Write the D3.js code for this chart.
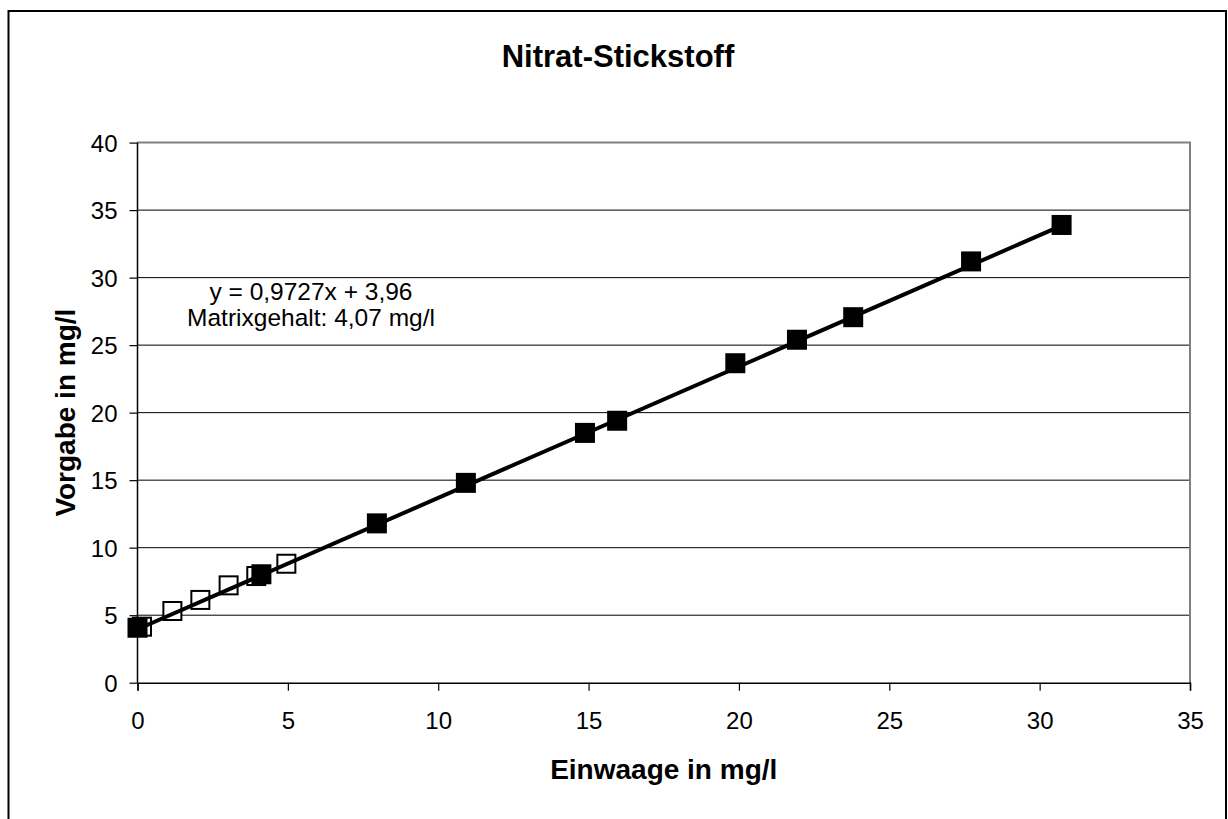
<!DOCTYPE html>
<html>
<head>
<meta charset="utf-8">
<script src="https://cdn.jsdelivr.net/npm/d3@7"></script>
<style>
  body { margin: 0; background: #fff; }
  svg { font-family: "Liberation Sans", Arial, sans-serif; }
</style>
</head>
<body>
<div id="chart"></div>
<script>
  // measured points (filled) and matrix-free points (open)
  let filledX = [0, 4.12, 7.96, 10.92, 14.88, 15.95, 19.88, 21.93, 23.8, 27.72, 30.73];
  let filledY = [4.07, 8.03, 11.8, 14.8, 18.5, 19.4, 23.66, 25.4, 27.07, 31.2, 33.9];
  let openX = [0.15, 1.16, 2.09, 3.03, 3.95, 4.95];
  let openY = [4.15, 5.31, 6.13, 7.21, 7.9, 8.81];

  let xTicks = [0, 5, 10, 15, 20, 25, 30, 35];
  let yTicks = [0, 5, 10, 15, 20, 25, 30, 35, 40];

  let slope = 0.9727;
  let intercept = 3.96;
  let noteLines = ['y = 0,9727x + 3,96', 'Matrixgehalt: 4,07 mg/l'];

  let W = 1228, H = 819;
  let plot = { left: 137.5, top: 142.6, right: 1190, bottom: 682.7 };

  let x = d3.scaleLinear().domain([0, 35]).range([plot.left, plot.right]);
  let y = d3.scaleLinear().domain([0, 40]).range([plot.bottom, plot.top]);

  let svg = d3.select('#chart').append('svg')
    .attr('width', W).attr('height', H);

  // outer chart border
  svg.append('rect')
    .attr('x', 8.5).attr('y', 11).attr('width', 1217.5).attr('height', 830)
    .attr('fill', '#fff').attr('stroke', '#000').attr('stroke-width', 2);

  // gridlines
  svg.append('g').selectAll('line')
    .data(yTicks.slice(1, -1))
    .enter().append('line')
    .attr('x1', plot.left).attr('x2', plot.right)
    .attr('y1', (d) => y(d)).attr('y2', (d) => y(d))
    .attr('stroke', '#000').attr('stroke-width', 1);

  // plot area top / right border
  svg.append('path')
    .attr('d', `M${plot.left},${y(40)}H${x(35)}V${plot.bottom}`)
    .attr('fill', 'none').attr('stroke', '#808080').attr('stroke-width', 2);

  // axes
  let xAxis = svg.append('g')
    .attr('transform', `translate(0, ${plot.bottom})`)
    .call(d3.axisBottom(x).tickValues(xTicks).tickSize(8).tickPadding(21));
  let yAxis = svg.append('g')
    .attr('transform', `translate(${plot.left}, 0)`)
    .call(d3.axisLeft(y).tickValues(yTicks).tickSize(8).tickPadding(12));

  [xAxis, yAxis].forEach((g) => {
    g.select('.domain').attr('stroke', '#000').attr('stroke-width', 1.5);
    g.selectAll('.tick line').attr('stroke', '#000').attr('stroke-width', 1.2);
    g.selectAll('.tick text')
      .attr('font-family', '"Liberation Sans", Arial, sans-serif')
      .attr('font-size', 24).attr('fill', '#000');
  });
  yAxis.select('.domain').attr('d', `M${0},${plot.bottom}V${y(40)}`);
  yAxis.selectAll('.tick text').attr('dy', '0.36em');

  // open squares
  let openData = openX.map((v, i) => ({ x: v, y: openY[i] }));
  svg.append('g').selectAll('rect')
    .data(openData)
    .enter().append('rect')
    .attr('x', (d) => x(d.x) - 9).attr('y', (d) => y(d.y) - 9)
    .attr('width', 18).attr('height', 18)
    .attr('fill', '#fff').attr('stroke', '#000').attr('stroke-width', 2);

  // regression line over filled range
  let xExtent = d3.extent(filledX);
  svg.append('line')
    .attr('x1', x(xExtent[0])).attr('y1', y(slope * xExtent[0] + intercept))
    .attr('x2', x(xExtent[1])).attr('y2', y(slope * xExtent[1] + intercept))
    .attr('stroke', '#000').attr('stroke-width', 4);

  // filled squares
  let filledData = filledX.map((v, i) => ({ x: v, y: filledY[i] }));
  svg.append('g').selectAll('rect')
    .data(filledData)
    .enter().append('rect')
    .attr('x', (d) => x(d.x) - 10).attr('y', (d) => y(d.y) - 10)
    .attr('width', 20).attr('height', 20)
    .attr('fill', '#000');

  // annotation
  svg.append('g').selectAll('text')
    .data(noteLines)
    .enter().append('text')
    .attr('x', 311).attr('y', (d, i) => 300 + i * 26)
    .attr('text-anchor', 'middle')
    .attr('font-size', 24.5)
    .text((d) => d);

  // titles
  svg.append('text')
    .attr('x', 618).attr('y', 67)
    .attr('text-anchor', 'middle')
    .attr('font-size', 31).attr('font-weight', 'bold')
    .text('Nitrat-Stickstoff');

  svg.append('text')
    .attr('x', (plot.left + plot.right) / 2).attr('y', 779)
    .attr('text-anchor', 'middle')
    .attr('font-size', 28).attr('font-weight', 'bold')
    .text('Einwaage in mg/l');

  svg.append('text')
    .attr('transform', `translate(75, ${(plot.top + plot.bottom) / 2}) rotate(-90)`)
    .attr('text-anchor', 'middle')
    .attr('font-size', 28).attr('font-weight', 'bold')
    .text('Vorgabe in mg/l');
</script>
</body>
</html>
